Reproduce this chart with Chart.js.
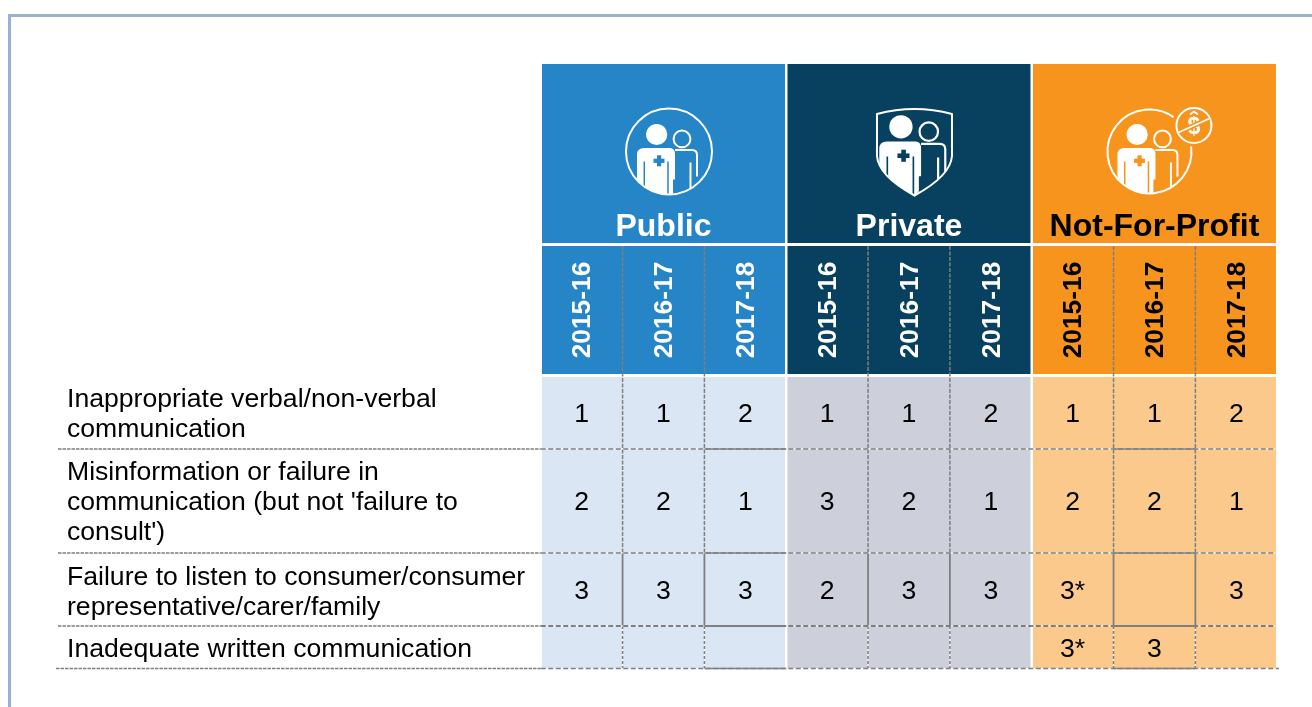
<!DOCTYPE html>
<html>
<head>
<meta charset="utf-8">
<title>Communication complaints by sector</title>
<script src="https://cdn.jsdelivr.net/npm/chart.js@4/dist/chart.umd.min.js"></script>
<style>
    html, body { margin: 0; padding: 0; background: #fff; overflow: hidden; }
    #frame { position: absolute; left: 8px; top: 14px; right: 0; bottom: 0; border-left: 3px solid #9cb0d0; border-top: 3px solid #9cb0d0; }
    #tableChart { position: absolute; left: 0; top: 0; }
</style>
</head>
<body>
<div id="frame"></div>
<canvas id="tableChart" width="1312" height="707"></canvas>
<script>
// Data
const groupLabels = ['Public', 'Private', 'Not-For-Profit'];
const yearLabels = ['2015-16', '2016-17', '2017-18', '2015-16', '2016-17', '2017-18', '2015-16', '2016-17', '2017-18'];
const rowLabels = [
    ['Inappropriate verbal/non-verbal', 'communication'],
    ['Misinformation or failure in', "communication (but not 'failure to", "consult')"],
    ['Failure to listen to consumer/consumer', 'representative/carer/family'],
    ['Inadequate written communication']
];
const ranksRow1 = ['1', '1', '2', '1', '1', '2', '1', '1', '2'];
const ranksRow2 = ['2', '2', '1', '3', '2', '1', '2', '2', '1'];
const ranksRow3 = ['3', '3', '3', '2', '3', '3', '3*', '', '3'];
const ranksRow4 = ['', '', '', '', '', '', '3*', '3', ''];
const allRanks = [ranksRow1, ranksRow2, ranksRow3, ranksRow4];

// Layout of the bands on the y scale (0 = top of the table)
const headerSpan = [0, 179];
const yearSpan = [182, 310];
const rowSpans = [[313, 385], [385, 489], [489, 562], [562, 604.5]];
const rowLabelCentres = [351, 439, 528.5, 585.25];

const headerColors = ['#2585c6', '#07415f', '#f7941e'];
const cellColors = ['#dbe6f4', '#cdd0da', '#fbc98c'];
const headerTextColors = ['#ffffff', '#ffffff', '#000000'];
const lineColor = '#7f7f7f';
const fontFamily = '"Liberation Sans", Arial, sans-serif';

// One bar per sector for each band, sitting on the middle year of the sector
function bandData(span) {
    return yearLabels.map((_, i) => (i % 3 === 1 ? span : null));
}

function band(span, colors) {
    return {
        data: bandData(span),
        backgroundColor: yearLabels.map((_, i) => colors[Math.floor(i / 3)]),
        barThickness: 243,
        inflateAmount: 0,
        grouped: false
    };
}

function strokeSegment(ctx, x0, y0, x1, y1, dash, width, under) {
    if (under) {
        ctx.setLineDash([]);
        ctx.strokeStyle = '#ffffff';
        ctx.lineWidth = 1;
        ctx.beginPath();
        ctx.moveTo(x0, y0);
        ctx.lineTo(x1, y1);
        ctx.stroke();
    }
    ctx.setLineDash(dash);
    ctx.strokeStyle = lineColor;
    ctx.lineWidth = width;
    ctx.beginPath();
    ctx.moveTo(x0, y0);
    ctx.lineTo(x1, y1);
    ctx.stroke();
    ctx.setLineDash([]);
}

function drawGridLines(chart) {
    const ctx = chart.ctx;
    const x = chart.scales.x;
    const y = chart.scales.y;
    const step = x.getPixelForTick(1) - x.getPixelForTick(0);
    const edge = i => x.getPixelForTick(i) - step / 2; // left edge of column i

    // vertical dividers between the years
    [1, 2, 4, 5, 7, 8].forEach(col => {
        const px = edge(col);
        strokeSegment(ctx, px, y.getPixelForValue(yearSpan[0]), px, y.getPixelForValue(rowSpans[2][0]), [4, 1.5], 1.5);
        strokeSegment(ctx, px, y.getPixelForValue(rowSpans[2][0]), px, y.getPixelForValue(rowSpans[2][1]), [], 1.8);
        strokeSegment(ctx, px, y.getPixelForValue(rowSpans[3][0]), px, y.getPixelForValue(rowSpans[3][1]), [3, 2], 1.5, true);
    });

    // horizontal rules under each row, solid over two of the columns
    rowSpans.forEach((span, r) => {
        const py = y.getPixelForValue(span[1]);
        const last = r === rowSpans.length - 1;
        const start = last ? 56 : 58;
        const end = last ? 1279 : 1275;
        const weight = r === 2 ? 2.2 : 1.7;
        strokeSegment(ctx, start, py, x.left, py, [3.5, 1], 1.7);
        strokeSegment(ctx, x.left, py, end, py, [5, 2.5], weight, true);
        [2, 7].forEach(col => {
            strokeSegment(ctx, edge(col), py, edge(col + 1), py, [], weight);
        });
    });
}

function drawPeople(ctx, cx, cy, s, bg) {
    ctx.save();
    ctx.translate(cx, cy);
    ctx.scale(s, s);
    ctx.fillStyle = '#ffffff';
    ctx.strokeStyle = '#ffffff';

    // person behind
    ctx.lineWidth = 2;
    ctx.beginPath();
    ctx.arc(13, -12.6, 8.4, 0, Math.PI * 2);
    ctx.stroke();
    ctx.beginPath();
    ctx.moveTo(6, -1.5);
    ctx.lineTo(23, -1.5);
    ctx.quadraticCurveTo(28, -1.5, 28, 3.5);
    ctx.lineTo(28, 25);
    ctx.moveTo(21.5, 11);
    ctx.lineTo(21.5, 38);
    ctx.moveTo(3, 26);
    ctx.lineTo(3, 42);
    ctx.stroke();

    // person in front
    ctx.beginPath();
    ctx.arc(-12.3, -17, 10.6, 0, Math.PI * 2);
    ctx.fill();
    ctx.beginPath();
    ctx.moveTo(-32, 3);
    ctx.quadraticCurveTo(-32, -3.6, -25, -3.6);
    ctx.lineTo(1, -3.6);
    ctx.quadraticCurveTo(6, -3.6, 6, 3);
    ctx.lineTo(6, 28);
    ctx.lineTo(3, 28);
    ctx.lineTo(3, 45);
    ctx.lineTo(-32, 45);
    ctx.closePath();
    ctx.fill();

    // arm gaps and the cross
    ctx.strokeStyle = bg;
    ctx.lineWidth = 1.5;
    ctx.beginPath();
    ctx.moveTo(-24.7, 10);
    ctx.lineTo(-24.7, 36);
    ctx.moveTo(-1, 10);
    ctx.lineTo(-1, 45);
    ctx.stroke();
    ctx.fillStyle = bg;
    ctx.fillRect(-15.5, 7.2, 11, 4.2);
    ctx.fillRect(-12, 3.8, 4.2, 11);
    ctx.restore();
}

function drawCircleIcon(ctx, cx, cy, r, bg, gap) {
    ctx.save();
    ctx.beginPath();
    ctx.arc(cx, cy, r, 0, Math.PI * 2);
    ctx.clip();
    drawPeople(ctx, cx, cy, 1, bg);
    ctx.restore();
    ctx.strokeStyle = '#ffffff';
    ctx.lineWidth = 2;
    ctx.beginPath();
    if (gap) {
        ctx.arc(cx, cy, r, gap[1], gap[0] + Math.PI * 2);
    } else {
        ctx.arc(cx, cy, r, 0, Math.PI * 2);
    }
    ctx.stroke();
}

function shieldPath(ctx, cx) {
    ctx.beginPath();
    ctx.moveTo(cx - 37.5, 114);
    ctx.quadraticCurveTo(cx, 104, cx + 37.5, 114);
    ctx.lineTo(cx + 37.5, 156);
    ctx.quadraticCurveTo(cx + 36, 176, cx, 195.5);
    ctx.quadraticCurveTo(cx - 36, 176, cx - 37.5, 156);
    ctx.closePath();
}

function drawDollarBadge(ctx, cx, cy, bg) {
    ctx.strokeStyle = '#ffffff';
    ctx.lineWidth = 2;
    ctx.beginPath();
    ctx.arc(cx, cy, 17.5, 0, Math.PI * 2);
    ctx.stroke();
    ctx.fillStyle = '#ffffff';
    ctx.font = 'bold 23px ' + fontFamily;
    ctx.textAlign = 'center';
    ctx.textBaseline = 'middle';
    ctx.fillText('$', cx, cy + 2);
    ctx.strokeStyle = bg;
    ctx.lineWidth = 5;
    ctx.beginPath();
    ctx.moveTo(cx - 15, cy + 7);
    ctx.lineTo(cx + 15, cy - 7);
    ctx.stroke();
    ctx.strokeStyle = '#ffffff';
    ctx.lineWidth = 1.8;
    ctx.beginPath();
    ctx.moveTo(cx - 15.5, cy + 7);
    ctx.lineTo(cx + 15.5, cy - 7);
    ctx.stroke();
    ctx.beginPath();
    ctx.moveTo(cx - 4, cy - 11);
    ctx.lineTo(cx, cy - 14);
    ctx.lineTo(cx + 4, cy - 11);
    ctx.stroke();
}

function drawHeaders(chart) {
    const ctx = chart.ctx;
    const x = chart.scales.x;
    const y = chart.scales.y;
    const yearMid = y.getPixelForValue((yearSpan[0] + yearSpan[1]) / 2);

    ctx.textAlign = 'center';
    ctx.textBaseline = 'alphabetic';
    groupLabels.forEach((label, g) => {
        ctx.fillStyle = headerTextColors[g];
        ctx.font = 'bold 32px ' + fontFamily;
        ctx.fillText(label, x.getPixelForTick(g * 3 + 1), y.getPixelForValue(headerSpan[1]) - 7);
    });

    yearLabels.forEach((label, i) => {
        ctx.save();
        ctx.translate(x.getPixelForTick(i), yearMid);
        ctx.rotate(-Math.PI / 2);
        ctx.fillStyle = headerTextColors[Math.floor(i / 3)];
        ctx.font = 'bold 26.3px ' + fontFamily;
        ctx.textAlign = 'center';
        ctx.textBaseline = 'middle';
        ctx.fillText(label, 0, 1.5);
        ctx.restore();
    });

    // sector icons
    const iconY = y.getPixelForValue(0) + 87.5;
    drawCircleIcon(ctx, x.getPixelForTick(1) + 5.5, iconY, 43, headerColors[0]);

    const privX = x.getPixelForTick(4) + 5.5;
    ctx.save();
    shieldPath(ctx, privX);
    ctx.clip();
    drawPeople(ctx, privX, iconY - 6, 1.1, headerColors[1]);
    ctx.restore();
    ctx.strokeStyle = '#ffffff';
    ctx.lineWidth = 2;
    shieldPath(ctx, privX);
    ctx.stroke();

    const nfpX = x.getPixelForTick(7) - 5;
    drawCircleIcon(ctx, nfpX, iconY, 42, headerColors[2], [-0.96, -0.12]);
    drawDollarBadge(ctx, nfpX + 44.5, iconY - 26, headerColors[2]);
}

function drawRanks(chart) {
    const ctx = chart.ctx;
    const x = chart.scales.x;
    const y = chart.scales.y;
    ctx.fillStyle = '#000000';
    ctx.font = '26.6px ' + fontFamily;
    ctx.textAlign = 'center';
    ctx.textBaseline = 'middle';
    allRanks.forEach((ranks, r) => {
        const py = y.getPixelForValue((rowSpans[r][0] + rowSpans[r][1]) / 2) + 2;
        ranks.forEach((rank, i) => {
            if (rank) {
                ctx.fillText(rank, x.getPixelForTick(i), py);
            }
        });
    });
}

const tablePlugin = {
    id: 'tablePlugin',
    afterDatasetsDraw(chart) {
        drawGridLines(chart);
        drawHeaders(chart);
        drawRanks(chart);
    }
};

new Chart(document.getElementById('tableChart').getContext('2d'), {
    type: 'bar',
    data: {
        labels: yearLabels,
        datasets: [
            band(headerSpan, headerColors),
            band(yearSpan, headerColors),
            ...rowSpans.map(span => band(span, cellColors))
        ]
    },
    options: {
        responsive: false,
        animation: false,
        layout: { padding: { left: 67, right: 34.8, top: 64, bottom: 38.5 } },
        plugins: {
            legend: { display: false },
            tooltip: { enabled: false }
        },
        scales: {
            x: { display: false },
            y: {
                reverse: true,
                min: 0,
                max: 604.5,
                grid: { display: false, drawTicks: false },
                border: { display: false },
                afterBuildTicks: scale => {
                    scale.ticks = rowLabelCentres.map(value => ({ value }));
                },
                afterFit: scale => {
                    scale.width = 473.75;
                },
                ticks: {
                    autoSkip: false,
                    crossAlign: 'far',
                    color: '#000000',
                    font: { family: fontFamily, size: 26.6, lineHeight: '30px' },
                    callback: (value, index) => rowLabels[index]
                }
            }
        }
    },
    plugins: [tablePlugin]
});
</script>
</body>
</html>
